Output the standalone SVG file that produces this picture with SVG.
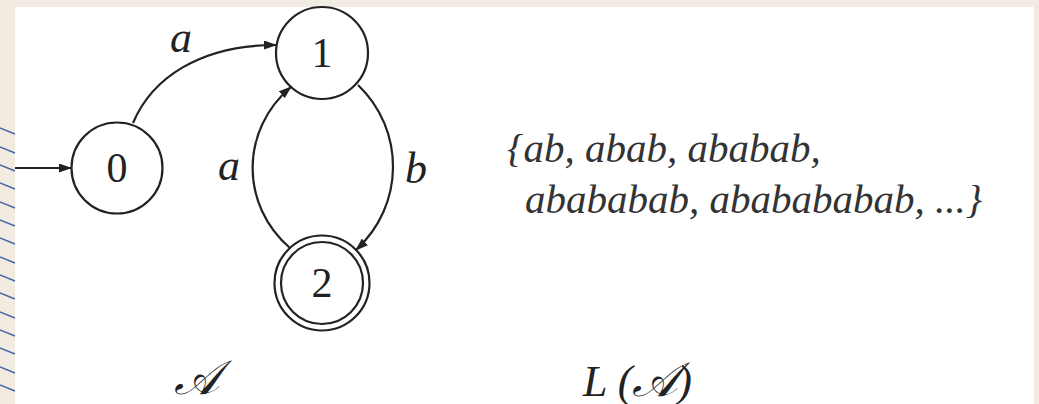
<svg xmlns="http://www.w3.org/2000/svg" width="1039" height="404" viewBox="0 0 1039 404">
<style>
.st{fill:#fff;stroke:#222;stroke-width:2.2}
.dg{font-family:"Liberation Serif",serif;font-size:42px;fill:#222;text-anchor:middle}
.lb{font-family:"Liberation Serif",serif;font-style:italic;font-size:44px;fill:#222}
.sc{font-size:48px}
.tx{font-family:"Liberation Serif",serif;font-style:italic;font-size:41px;fill:#333}
.ed{fill:none;stroke:#222;stroke-width:2.2}
.rl{stroke:#4a68a6;stroke-width:1.4}
</style>
<defs>
<marker id="ah" markerWidth="13" markerHeight="9" refX="12" refY="4.5" orient="auto" markerUnits="userSpaceOnUse">
<path d="M0,0 L13,4.5 L0,9 Z" fill="#222"/>
</marker>
</defs>
<rect x="0" y="0" width="1039" height="404" fill="#F1EBE2"/>
<rect x="15" y="7" width="1020" height="397" fill="#fff"/>
<line x1="1035" y1="7" x2="1035" y2="404" stroke="#e0ddd8" stroke-width="1"/>
<g id="ruling">
<line class="rl" x1="0" y1="128" x2="15" y2="134"/>
<line class="rl" x1="0" y1="147" x2="15" y2="153"/>
<line class="rl" x1="0" y1="165" x2="15" y2="171"/>
<line class="rl" x1="0" y1="183" x2="15" y2="189"/>
<line class="rl" x1="0" y1="202" x2="15" y2="208"/>
<line class="rl" x1="0" y1="220" x2="15" y2="226"/>
<line class="rl" x1="0" y1="238" x2="15" y2="244"/>
<line class="rl" x1="0" y1="257" x2="15" y2="263"/>
<line class="rl" x1="0" y1="275" x2="15" y2="281"/>
<line class="rl" x1="0" y1="293" x2="15" y2="299"/>
<line class="rl" x1="0" y1="312" x2="15" y2="318"/>
<line class="rl" x1="0" y1="330" x2="15" y2="336"/>
<line class="rl" x1="0" y1="348" x2="15" y2="354"/>
<line class="rl" x1="0" y1="367" x2="15" y2="373"/>
<line class="rl" x1="0" y1="385" x2="15" y2="391"/>
</g>
<g id="connectors">
<path class="ed" d="M15,168 L71,168" marker-end="url(#ah)"/>
<path class="ed" d="M133,123 C152,78 200,45 276,45" marker-end="url(#ah)"/>
<path class="ed" d="M290,248 C240,205 240,130 291,87" marker-end="url(#ah)"/>
<path class="ed" d="M358,85 C405,130 405,205 356,250" marker-end="url(#ah)"/>
<text class="lb" x="170" y="52">a</text>
<text class="lb" x="218" y="180">a</text>
<text class="lb" x="405" y="183">b</text>
</g>
<g id="node0">
<circle class="st" cx="117" cy="168" r="45.5"/>
<text class="dg" x="117" y="182">0</text>
</g>
<g id="node1">
<circle class="st" cx="322" cy="53" r="46"/>
<text class="dg" x="322" y="67">1</text>
</g>
<g id="node2">
<circle class="st" cx="322" cy="283" r="47.5"/>
<circle class="st" cx="322" cy="283" r="41"/>
<text class="dg" x="322" y="297">2</text>
</g>
<g id="language">
<text class="tx" x="507" y="162">{ab, abab, ababab,</text>
<text class="tx" x="525" y="213">abababab, ababababab, ...}</text>
</g>
<g id="captions">
<text class="lb sc" x="174" y="394">𝒜</text>
<text class="lb" x="583" y="396">L (<tspan class="sc">𝒜</tspan>)</text>
</g>
</svg>
